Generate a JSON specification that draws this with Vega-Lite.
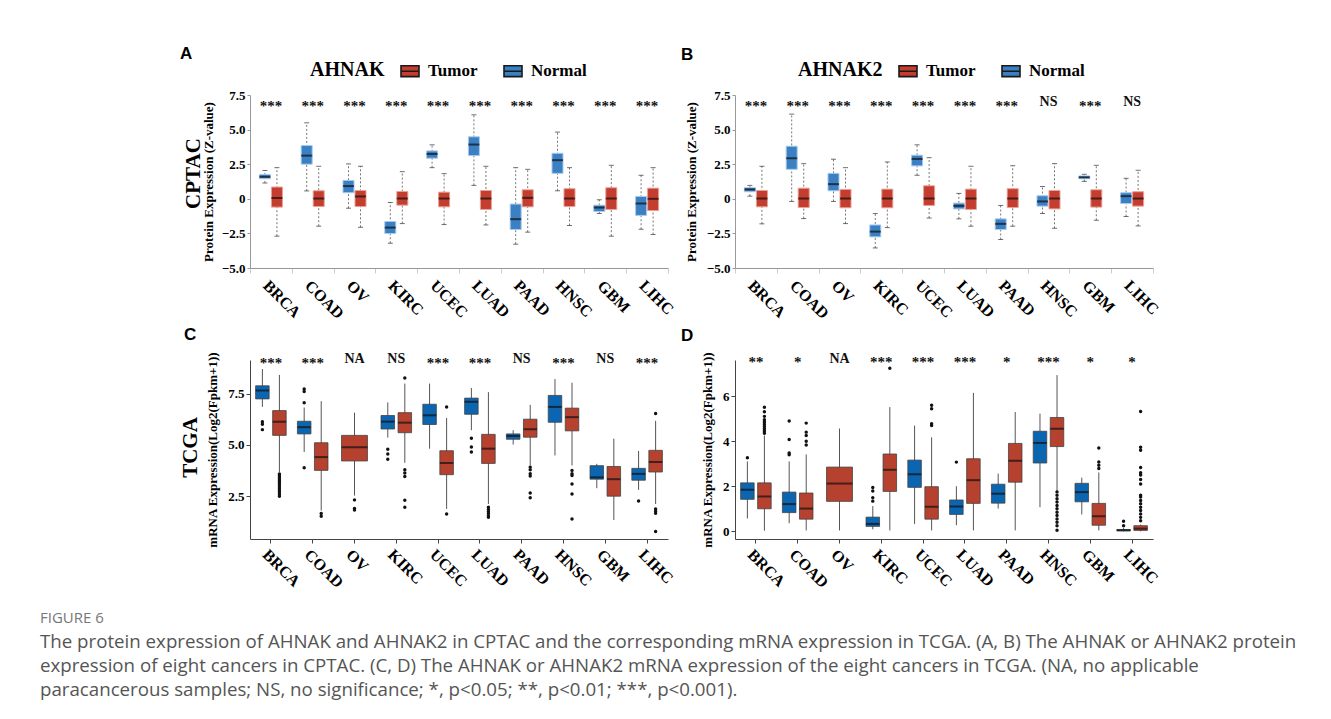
{
"$schema":"https://vega.github.io/schema/vega-lite/v6.json",
"background":"white",
"padding":{"left":40,"top":44,"right":20,"bottom":20},
"config":{"view":{"stroke":null},"axis":{"grid":false,"labelOverlap":false}},
"title":{"text":"FIGURE 6","subtitle":["The protein expression of AHNAK and AHNAK2 in CPTAC and the corresponding mRNA expression in TCGA. (A, B) The AHNAK or AHNAK2 protein","expression of eight cancers in CPTAC. (C, D) The AHNAK or AHNAK2 mRNA expression of the eight cancers in TCGA. (NA, no applicable","paracancerous samples; NS, no significance; *, p<0.05; **, p<0.01; ***, p<0.001)."],"orient":"bottom","anchor":"start","frame":"group","dx":-210,"offset":20,"font":"Open Sans","fontSize":15,"fontWeight":"normal","color":"#777","subtitleFont":"Open Sans","subtitleFontSize":18.7,"subtitleColor":"#555","subtitleLineHeight":24,"subtitlePadding":7},
"datasets":{
"boxA":[
{"cancer":"BRCA","group":"Normal","lo":1.15,"q1":1.45,"med":1.6,"q3":1.75,"hi":2.05},
{"cancer":"BRCA","group":"Tumor","lo":-2.7,"q1":-0.6,"med":0.05,"q3":0.85,"hi":2.25},
{"cancer":"COAD","group":"Normal","lo":0.57,"q1":2.5,"med":3.12,"q3":3.85,"hi":5.49},
{"cancer":"COAD","group":"Tumor","lo":-1.98,"q1":-0.56,"med":0.02,"q3":0.58,"hi":2.35},
{"cancer":"OV","group":"Normal","lo":-0.68,"q1":0.44,"med":0.92,"q3":1.33,"hi":2.52},
{"cancer":"OV","group":"Tumor","lo":-2.06,"q1":-0.56,"med":0.17,"q3":0.6,"hi":2.35},
{"cancer":"KIRC","group":"Normal","lo":-3.21,"q1":-2.51,"med":-2.08,"q3":-1.64,"hi":-0.27},
{"cancer":"KIRC","group":"Tumor","lo":-1.79,"q1":-0.46,"med":0.02,"q3":0.53,"hi":1.96},
{"cancer":"UCEC","group":"Normal","lo":2.25,"q1":2.93,"med":3.24,"q3":3.46,"hi":3.9},
{"cancer":"UCEC","group":"Tumor","lo":-1.86,"q1":-0.58,"med":0.02,"q3":0.48,"hi":1.82},
{"cancer":"LUAD","group":"Normal","lo":0.97,"q1":3.12,"med":3.92,"q3":4.48,"hi":6.07},
{"cancer":"LUAD","group":"Tumor","lo":-1.89,"q1":-0.77,"med":0.02,"q3":0.6,"hi":2.35},
{"cancer":"PAAD","group":"Normal","lo":-3.28,"q1":-2.22,"med":-1.47,"q3":-0.38,"hi":2.25},
{"cancer":"PAAD","group":"Tumor","lo":-2.41,"q1":-0.58,"med":0.07,"q3":0.65,"hi":2.13},
{"cancer":"HNSC","group":"Normal","lo":0.58,"q1":1.84,"med":2.79,"q3":3.29,"hi":4.82},
{"cancer":"HNSC","group":"Tumor","lo":-1.93,"q1":-0.56,"med":0.02,"q3":0.73,"hi":2.25},
{"cancer":"GBM","group":"Normal","lo":-1.06,"q1":-0.92,"med":-0.63,"q3":-0.46,"hi":-0.07},
{"cancer":"GBM","group":"Tumor","lo":-2.7,"q1":-0.77,"med":0.02,"q3":0.8,"hi":2.42},
{"cancer":"LIHC","group":"Normal","lo":-2.2,"q1":-1.2,"med":-0.34,"q3":0.17,"hi":1.7},
{"cancer":"LIHC","group":"Tumor","lo":-2.58,"q1":-0.85,"med":0.0,"q3":0.77,"hi":2.25}
],
"boxB":[
{"cancer":"BRCA","group":"Normal","lo":0.19,"q1":0.51,"med":0.68,"q3":0.8,"hi":0.97},
{"cancer":"BRCA","group":"Tumor","lo":-1.81,"q1":-0.58,"med":0.02,"q3":0.6,"hi":2.35},
{"cancer":"COAD","group":"Normal","lo":-0.19,"q1":2.13,"med":2.93,"q3":3.8,"hi":6.12},
{"cancer":"COAD","group":"Tumor","lo":-1.43,"q1":-0.63,"med":0.02,"q3":0.77,"hi":2.54},
{"cancer":"OV","group":"Normal","lo":-0.19,"q1":0.58,"med":1.06,"q3":1.84,"hi":2.86},
{"cancer":"OV","group":"Tumor","lo":-1.79,"q1":-0.65,"med":0.02,"q3":0.68,"hi":2.25},
{"cancer":"KIRC","group":"Normal","lo":-3.55,"q1":-2.75,"med":-2.37,"q3":-1.89,"hi":-1.06},
{"cancer":"KIRC","group":"Tumor","lo":-2.08,"q1":-0.65,"med":0.02,"q3":0.7,"hi":2.66},
{"cancer":"UCEC","group":"Normal","lo":1.7,"q1":2.38,"med":2.88,"q3":3.15,"hi":3.9},
{"cancer":"UCEC","group":"Tumor","lo":-1.39,"q1":-0.48,"med":0.02,"q3":0.94,"hi":2.97},
{"cancer":"LUAD","group":"Normal","lo":-1.45,"q1":-0.73,"med":-0.51,"q3":-0.31,"hi":0.39},
{"cancer":"LUAD","group":"Tumor","lo":-1.98,"q1":-0.77,"med":0.02,"q3":0.7,"hi":2.35},
{"cancer":"PAAD","group":"Normal","lo":-2.94,"q1":-2.22,"med":-1.81,"q3":-1.45,"hi":-0.48},
{"cancer":"PAAD","group":"Tumor","lo":-1.98,"q1":-0.63,"med":0.02,"q3":0.73,"hi":2.39},
{"cancer":"HNSC","group":"Normal","lo":-1.06,"q1":-0.53,"med":-0.19,"q3":0.22,"hi":0.89},
{"cancer":"HNSC","group":"Tumor","lo":-2.13,"q1":-0.73,"med":0.02,"q3":0.6,"hi":2.54},
{"cancer":"GBM","group":"Normal","lo":1.26,"q1":1.45,"med":1.55,"q3":1.65,"hi":1.77},
{"cancer":"GBM","group":"Tumor","lo":-1.55,"q1":-0.6,"med":0.02,"q3":0.65,"hi":2.42},
{"cancer":"LIHC","group":"Normal","lo":-1.28,"q1":-0.34,"med":0.19,"q3":0.44,"hi":1.48},
{"cancer":"LIHC","group":"Tumor","lo":-1.96,"q1":-0.53,"med":0.02,"q3":0.51,"hi":2.06}
],
"boxC":[
{"cancer":"BRCA","group":"Normal","lo":6.86,"q1":7.25,"med":7.66,"q3":7.89,"hi":8.71},
{"cancer":"BRCA","group":"Tumor","lo":3.68,"q1":5.47,"med":6.14,"q3":6.68,"hi":8.42},
{"cancer":"COAD","group":"Normal","lo":4.66,"q1":5.54,"med":5.87,"q3":6.16,"hi":6.83},
{"cancer":"COAD","group":"Tumor","lo":1.8,"q1":3.76,"med":4.41,"q3":5.11,"hi":7.14},
{"cancer":"OV","group":"Tumor","lo":2.53,"q1":4.22,"med":4.89,"q3":5.47,"hi":6.58},
{"cancer":"KIRC","group":"Normal","lo":5.36,"q1":5.78,"med":6.14,"q3":6.44,"hi":7.08},
{"cancer":"KIRC","group":"Tumor","lo":4.13,"q1":5.6,"med":6.09,"q3":6.58,"hi":8.0},
{"cancer":"UCEC","group":"Normal","lo":4.82,"q1":6.0,"med":6.45,"q3":6.99,"hi":8.0},
{"cancer":"UCEC","group":"Tumor","lo":1.88,"q1":3.55,"med":4.12,"q3":4.72,"hi":6.32},
{"cancer":"LUAD","group":"Normal","lo":5.72,"q1":6.5,"med":7.11,"q3":7.29,"hi":7.78},
{"cancer":"LUAD","group":"Tumor","lo":2.12,"q1":4.1,"med":4.82,"q3":5.52,"hi":7.58},
{"cancer":"PAAD","group":"Normal","lo":5.02,"q1":5.28,"med":5.44,"q3":5.54,"hi":5.72},
{"cancer":"PAAD","group":"Tumor","lo":4.0,"q1":5.38,"med":5.77,"q3":6.26,"hi":6.96},
{"cancer":"HNSC","group":"Normal","lo":4.49,"q1":6.11,"med":6.86,"q3":7.42,"hi":8.22},
{"cancer":"HNSC","group":"Tumor","lo":4.0,"q1":5.69,"med":6.36,"q3":6.8,"hi":8.04},
{"cancer":"GBM","group":"Normal","lo":2.89,"q1":3.33,"med":3.42,"q3":3.99,"hi":4.08},
{"cancer":"GBM","group":"Tumor","lo":1.34,"q1":2.5,"med":3.33,"q3":3.95,"hi":5.31},
{"cancer":"LIHC","group":"Normal","lo":2.81,"q1":3.28,"med":3.59,"q3":3.86,"hi":4.71},
{"cancer":"LIHC","group":"Tumor","lo":2.12,"q1":3.68,"med":4.17,"q3":4.74,"hi":6.18}
],
"outC":[
{"cancer":"BRCA","group":"Normal","v":6.13},{"cancer":"BRCA","group":"Normal","v":6.01},{"cancer":"BRCA","group":"Normal","v":5.75},
{"cancer":"BRCA","group":"Tumor","v":3.58},{"cancer":"BRCA","group":"Tumor","v":3.5},{"cancer":"BRCA","group":"Tumor","v":3.42},{"cancer":"BRCA","group":"Tumor","v":3.34},{"cancer":"BRCA","group":"Tumor","v":3.26},{"cancer":"BRCA","group":"Tumor","v":3.18},{"cancer":"BRCA","group":"Tumor","v":3.1},{"cancer":"BRCA","group":"Tumor","v":3.0},{"cancer":"BRCA","group":"Tumor","v":2.9},{"cancer":"BRCA","group":"Tumor","v":2.8},{"cancer":"BRCA","group":"Tumor","v":2.7},{"cancer":"BRCA","group":"Tumor","v":2.6},{"cancer":"BRCA","group":"Tumor","v":2.5},
{"cancer":"COAD","group":"Normal","v":7.73},{"cancer":"COAD","group":"Normal","v":7.61},{"cancer":"COAD","group":"Normal","v":7.06},{"cancer":"COAD","group":"Normal","v":3.89},
{"cancer":"COAD","group":"Tumor","v":1.65},{"cancer":"COAD","group":"Tumor","v":1.52},
{"cancer":"OV","group":"Tumor","v":2.32},{"cancer":"OV","group":"Tumor","v":1.9},{"cancer":"OV","group":"Tumor","v":1.83},
{"cancer":"KIRC","group":"Normal","v":4.79},{"cancer":"KIRC","group":"Normal","v":4.56},{"cancer":"KIRC","group":"Normal","v":4.3},
{"cancer":"KIRC","group":"Tumor","v":8.27},{"cancer":"KIRC","group":"Tumor","v":3.79},{"cancer":"KIRC","group":"Tumor","v":3.63},{"cancer":"KIRC","group":"Tumor","v":3.46},{"cancer":"KIRC","group":"Tumor","v":2.3},{"cancer":"KIRC","group":"Tumor","v":1.96},
{"cancer":"UCEC","group":"Tumor","v":6.86},{"cancer":"UCEC","group":"Tumor","v":1.63},
{"cancer":"LUAD","group":"Normal","v":5.33},{"cancer":"LUAD","group":"Normal","v":4.9},{"cancer":"LUAD","group":"Normal","v":4.66},
{"cancer":"LUAD","group":"Tumor","v":1.96},{"cancer":"LUAD","group":"Tumor","v":1.85},{"cancer":"LUAD","group":"Tumor","v":1.75},{"cancer":"LUAD","group":"Tumor","v":1.65},{"cancer":"LUAD","group":"Tumor","v":1.55},{"cancer":"LUAD","group":"Tumor","v":1.47},
{"cancer":"PAAD","group":"Tumor","v":3.92},{"cancer":"PAAD","group":"Tumor","v":3.79},{"cancer":"PAAD","group":"Tumor","v":3.6},{"cancer":"PAAD","group":"Tumor","v":3.48},{"cancer":"PAAD","group":"Tumor","v":2.66},{"cancer":"PAAD","group":"Tumor","v":2.42},
{"cancer":"HNSC","group":"Tumor","v":3.76},{"cancer":"HNSC","group":"Tumor","v":3.6},{"cancer":"HNSC","group":"Tumor","v":3.51},{"cancer":"HNSC","group":"Tumor","v":3.1},{"cancer":"HNSC","group":"Tumor","v":2.61},{"cancer":"HNSC","group":"Tumor","v":1.39},
{"cancer":"LIHC","group":"Normal","v":2.27},
{"cancer":"LIHC","group":"Tumor","v":6.54},{"cancer":"LIHC","group":"Tumor","v":1.88},{"cancer":"LIHC","group":"Tumor","v":1.76},{"cancer":"LIHC","group":"Tumor","v":1.67},{"cancer":"LIHC","group":"Tumor","v":0.78}
],
"boxD":[
{"cancer":"BRCA","group":"Normal","lo":0.57,"q1":1.42,"med":1.85,"q3":2.15,"hi":3.1},
{"cancer":"BRCA","group":"Tumor","lo":0.03,"q1":1.0,"med":1.55,"q3":2.15,"hi":4.25},
{"cancer":"COAD","group":"Normal","lo":0.36,"q1":0.83,"med":1.21,"q3":1.74,"hi":3.1},
{"cancer":"COAD","group":"Tumor","lo":0.04,"q1":0.54,"med":1.01,"q3":1.7,"hi":3.41},
{"cancer":"OV","group":"Tumor","lo":0.04,"q1":1.33,"med":2.12,"q3":2.85,"hi":4.56},
{"cancer":"KIRC","group":"Normal","lo":0.09,"q1":0.22,"med":0.33,"q3":0.63,"hi":1.12},
{"cancer":"KIRC","group":"Tumor","lo":0.04,"q1":1.77,"med":2.73,"q3":3.43,"hi":5.51},
{"cancer":"UCEC","group":"Normal","lo":0.33,"q1":1.95,"med":2.53,"q3":3.16,"hi":4.69},
{"cancer":"UCEC","group":"Tumor","lo":0.04,"q1":0.54,"med":1.09,"q3":1.98,"hi":4.17},
{"cancer":"LUAD","group":"Normal","lo":0.27,"q1":0.75,"med":1.1,"q3":1.39,"hi":2.0},
{"cancer":"LUAD","group":"Tumor","lo":0.04,"q1":1.24,"med":2.27,"q3":3.22,"hi":6.14},
{"cancer":"PAAD","group":"Normal","lo":1.01,"q1":1.25,"med":1.67,"q3":2.09,"hi":2.56},
{"cancer":"PAAD","group":"Tumor","lo":0.04,"q1":2.18,"med":3.13,"q3":3.9,"hi":5.29},
{"cancer":"HNSC","group":"Normal","lo":1.07,"q1":3.03,"med":3.92,"q3":4.44,"hi":5.22},
{"cancer":"HNSC","group":"Tumor","lo":1.79,"q1":3.76,"med":4.55,"q3":5.05,"hi":6.93},
{"cancer":"GBM","group":"Normal","lo":0.75,"q1":1.31,"med":1.74,"q3":2.13,"hi":2.38},
{"cancer":"GBM","group":"Tumor","lo":0.04,"q1":0.27,"med":0.67,"q3":1.24,"hi":2.61},
{"cancer":"LIHC","group":"Normal","lo":0.0,"q1":0.02,"med":0.05,"q3":0.08,"hi":0.15},
{"cancer":"LIHC","group":"Tumor","lo":0.0,"q1":0.04,"med":0.12,"q3":0.25,"hi":0.3}
],
"outD":[
{"cancer":"BRCA","group":"Normal","v":3.26},
{"cancer":"BRCA","group":"Tumor","v":5.5},{"cancer":"BRCA","group":"Tumor","v":5.3},{"cancer":"BRCA","group":"Tumor","v":5.1},{"cancer":"BRCA","group":"Tumor","v":4.95},{"cancer":"BRCA","group":"Tumor","v":4.85},{"cancer":"BRCA","group":"Tumor","v":4.75},{"cancer":"BRCA","group":"Tumor","v":4.65},{"cancer":"BRCA","group":"Tumor","v":4.55},{"cancer":"BRCA","group":"Tumor","v":4.45},{"cancer":"BRCA","group":"Tumor","v":4.35},
{"cancer":"COAD","group":"Normal","v":4.89},{"cancer":"COAD","group":"Normal","v":4.07},{"cancer":"COAD","group":"Normal","v":3.47},{"cancer":"COAD","group":"Normal","v":3.4},
{"cancer":"COAD","group":"Tumor","v":4.8},{"cancer":"COAD","group":"Tumor","v":4.4},{"cancer":"COAD","group":"Tumor","v":4.25},{"cancer":"COAD","group":"Tumor","v":4.0},{"cancer":"COAD","group":"Tumor","v":3.83},
{"cancer":"KIRC","group":"Normal","v":1.94},{"cancer":"KIRC","group":"Normal","v":1.79},{"cancer":"KIRC","group":"Normal","v":1.49},{"cancer":"KIRC","group":"Normal","v":1.34},
{"cancer":"KIRC","group":"Tumor","v":7.23},
{"cancer":"UCEC","group":"Tumor","v":5.59},{"cancer":"UCEC","group":"Tumor","v":5.44},{"cancer":"UCEC","group":"Tumor","v":4.77},{"cancer":"UCEC","group":"Tumor","v":4.69},
{"cancer":"LUAD","group":"Normal","v":3.07},
{"cancer":"HNSC","group":"Tumor","v":1.75},{"cancer":"HNSC","group":"Tumor","v":1.6},{"cancer":"HNSC","group":"Tumor","v":1.45},{"cancer":"HNSC","group":"Tumor","v":1.3},{"cancer":"HNSC","group":"Tumor","v":1.15},{"cancer":"HNSC","group":"Tumor","v":1.0},{"cancer":"HNSC","group":"Tumor","v":0.85},{"cancer":"HNSC","group":"Tumor","v":0.7},{"cancer":"HNSC","group":"Tumor","v":0.55},{"cancer":"HNSC","group":"Tumor","v":0.4},{"cancer":"HNSC","group":"Tumor","v":0.25},{"cancer":"HNSC","group":"Tumor","v":0.05},
{"cancer":"GBM","group":"Tumor","v":3.7},{"cancer":"GBM","group":"Tumor","v":3.08},{"cancer":"GBM","group":"Tumor","v":2.93},{"cancer":"GBM","group":"Tumor","v":2.79},
{"cancer":"LIHC","group":"Normal","v":0.25},{"cancer":"LIHC","group":"Normal","v":0.45},
{"cancer":"LIHC","group":"Tumor","v":5.32},{"cancer":"LIHC","group":"Tumor","v":3.73},{"cancer":"LIHC","group":"Tumor","v":3.6},{"cancer":"LIHC","group":"Tumor","v":2.83},{"cancer":"LIHC","group":"Tumor","v":2.6},{"cancer":"LIHC","group":"Tumor","v":2.5},{"cancer":"LIHC","group":"Tumor","v":2.3},{"cancer":"LIHC","group":"Tumor","v":2.1},{"cancer":"LIHC","group":"Tumor","v":1.6},{"cancer":"LIHC","group":"Tumor","v":1.52},{"cancer":"LIHC","group":"Tumor","v":1.37},{"cancer":"LIHC","group":"Tumor","v":1.22},{"cancer":"LIHC","group":"Tumor","v":1.07},{"cancer":"LIHC","group":"Tumor","v":0.92},{"cancer":"LIHC","group":"Tumor","v":0.77},{"cancer":"LIHC","group":"Tumor","v":0.62},{"cancer":"LIHC","group":"Tumor","v":0.47}
],
"sigA":[{"cancer":"BRCA","label":"***"},{"cancer":"COAD","label":"***"},{"cancer":"OV","label":"***"},{"cancer":"KIRC","label":"***"},{"cancer":"UCEC","label":"***"},{"cancer":"LUAD","label":"***"},{"cancer":"PAAD","label":"***"},{"cancer":"HNSC","label":"***"},{"cancer":"GBM","label":"***"},{"cancer":"LIHC","label":"***"}],
"sigB":[{"cancer":"BRCA","label":"***"},{"cancer":"COAD","label":"***"},{"cancer":"OV","label":"***"},{"cancer":"KIRC","label":"***"},{"cancer":"UCEC","label":"***"},{"cancer":"LUAD","label":"***"},{"cancer":"PAAD","label":"***"},{"cancer":"HNSC","label":"NS"},{"cancer":"GBM","label":"***"},{"cancer":"LIHC","label":"NS"}],
"sigC":[{"cancer":"BRCA","label":"***"},{"cancer":"COAD","label":"***"},{"cancer":"OV","label":"NA"},{"cancer":"KIRC","label":"NS"},{"cancer":"UCEC","label":"***"},{"cancer":"LUAD","label":"***"},{"cancer":"PAAD","label":"NS"},{"cancer":"HNSC","label":"***"},{"cancer":"GBM","label":"NS"},{"cancer":"LIHC","label":"***"}],
"sigD":[{"cancer":"BRCA","label":"**"},{"cancer":"COAD","label":"*"},{"cancer":"OV","label":"NA"},{"cancer":"KIRC","label":"***"},{"cancer":"UCEC","label":"***"},{"cancer":"LUAD","label":"***"},{"cancer":"PAAD","label":"*"},{"cancer":"HNSC","label":"***"},{"cancer":"GBM","label":"*"},{"cancer":"LIHC","label":"*"}]
},
"vconcat":[
{"title":{"text":"A","anchor":"start","frame":"group","dx":-70,"offset":-17,"font":"Liberation Sans","fontSize":17,"fontWeight":"bold","color":"#000"},
"hconcat":[
{
"width":418,"height":173,
"title":{"text":"CPTAC","orient":"left","anchor":"middle","frame":"group","offset":-2,"dx":8,"font":"Liberation Serif","fontSize":21,"fontWeight":"bold","color":"#000"},
"encoding":{"x":{"field":"cancer","type":"nominal","sort":null,"title":null,"scale":{"domain":["BRCA","COAD","OV","KIRC","UCEC","LUAD","PAAD","HNSC","GBM","LIHC"],"paddingInner":0,"paddingOuter":0},"axis":{"labelAngle":45,"labelAlign":"left","labelBaseline":"top","labelFont":"Liberation Serif","labelFontSize":16,"labelFontWeight":"bold","labelColor":"#000","labelPadding":4,"domainColor":"#999","tickColor":"#ccc","tickSize":5,"tickBand":"extent"}}},
"layer":[
{"data":{"name":"boxA"},
"encoding":{"xOffset":{"field":"group","type":"nominal","scale":{"domain":["Normal","Tumor"],"paddingInner":0.083,"paddingOuter":0.78}}},
"layer":[
{"mark":{"type":"rule","color":"#777","strokeDash":[2,2],"strokeWidth":1},"encoding":{"y":{"field":"lo","type":"quantitative","title":"Protein Expression (Z-value)","scale":{"domain":[-5,7.5],"nice":false,"zero":false},"axis":{"values":[-5,-2.5,0,2.5,5,7.5],"tickCount":12,"format":".1f","labelExpr":"datum.value == 0 ? '0' : datum.label","labelOverlap":false,"labelFont":"Liberation Serif","labelFontSize":13,"labelFontWeight":"bold","labelColor":"#000","labelPadding":2,"tickSize":3,"tickColor":"#999","domainColor":"#999","titleFont":"Liberation Serif","titleFontSize":13,"titleFontWeight":"bold","titleColor":"#000","titlePadding":6}},"y2":{"field":"hi"}}},
{"mark":{"type":"tick","color":"#333","size":5,"thickness":1},"encoding":{"y":{"field":"lo","type":"quantitative","title":"Protein Expression (Z-value)"}}},
{"mark":{"type":"tick","color":"#333","size":5,"thickness":1},"encoding":{"y":{"field":"hi","type":"quantitative","title":"Protein Expression (Z-value)"}}},
{"mark":{"type":"bar","strokeWidth":1},"encoding":{"y":{"field":"q1","type":"quantitative","title":"Protein Expression (Z-value)"},"y2":{"field":"q3"},
"fill":{"field":"group","type":"nominal","scale":{"domain":["Tumor","Normal"],"range":["#c43d2e","#3b80c3"]},"legend":{"orient":"none","legendX":60,"legendY":-34,"direction":"horizontal","title":"AHNAK","titleOrient":"left","titleFont":"Liberation Serif","titleFontSize":20,"titleFontWeight":"bold","titleColor":"#000","titlePadding":15,"labelFont":"Liberation Serif","labelFontSize":17,"labelFontWeight":"bold","labelColor":"#000","labelOffset":8,"columnPadding":22,"symbolType":"M-1,-0.6H1V0.6H-1Z M-1,0H1","symbolSize":324,"symbolOpacity":1,"symbolStrokeColor":"#1a1a1a","symbolStrokeWidth":1.6,"encode":{"symbols":{"update":{"stroke":{"value":"#1a1a1a"},"strokeWidth":{"value":1.6},"opacity":{"value":1}}}}}},
"stroke":{"condition":{"test":"datum.group == 'Tumor'","value":"#e7a296"},"value":"#a8cbee"}}},
{"mark":{"type":"tick","color":"#111","size":11,"thickness":2},"encoding":{"y":{"field":"med","type":"quantitative","title":"Protein Expression (Z-value)"}}}
]},
{"data":{"name":"sigA"},
"layer":[
{"transform":[{"filter":"indexof(datum.label,'*') >= 0"}],"mark":{"type":"text","font":"Liberation Serif","fontSize":15,"fontWeight":"bold","color":"#111","baseline":"middle"},"encoding":{"text":{"field":"label"},"y":{"datum":6.7,"type":"quantitative","title":"Protein Expression (Z-value)"}}},
{"transform":[{"filter":"indexof(datum.label,'*') < 0"}],"mark":{"type":"text","font":"Liberation Serif","fontSize":14,"fontWeight":"bold","color":"#111","baseline":"middle"},"encoding":{"text":{"field":"label"},"y":{"datum":7.0,"type":"quantitative","title":"Protein Expression (Z-value)"}}}
]}
]
},
{
"width":418,"height":173,
"title":{"text":"B","anchor":"start","frame":"group","dx":-54,"offset":-2.5,"font":"Liberation Sans","fontSize":17,"fontWeight":"bold","color":"#000"},
"encoding":{"x":{"field":"cancer","type":"nominal","sort":null,"title":null,"scale":{"domain":["BRCA","COAD","OV","KIRC","UCEC","LUAD","PAAD","HNSC","GBM","LIHC"],"paddingInner":0,"paddingOuter":0},"axis":{"labelAngle":45,"labelAlign":"left","labelBaseline":"top","labelFont":"Liberation Serif","labelFontSize":16,"labelFontWeight":"bold","labelColor":"#000","labelPadding":4,"domainColor":"#999","tickColor":"#ccc","tickSize":5,"tickBand":"extent"}}},
"layer":[
{"data":{"name":"boxB"},
"encoding":{"xOffset":{"field":"group","type":"nominal","scale":{"domain":["Normal","Tumor"],"paddingInner":0.083,"paddingOuter":0.78}}},
"layer":[
{"mark":{"type":"rule","color":"#777","strokeDash":[2,2],"strokeWidth":1},"encoding":{"y":{"field":"lo","type":"quantitative","title":"Protein Expression (Z-value)","scale":{"domain":[-5,7.5],"nice":false,"zero":false},"axis":{"values":[-5,-2.5,0,2.5,5,7.5],"tickCount":12,"format":".1f","labelExpr":"datum.value == 0 ? '0' : datum.label","labelOverlap":false,"labelFont":"Liberation Serif","labelFontSize":13,"labelFontWeight":"bold","labelColor":"#000","labelPadding":2,"tickSize":3,"tickColor":"#999","domainColor":"#999","titleFont":"Liberation Serif","titleFontSize":13,"titleFontWeight":"bold","titleColor":"#000","titlePadding":8}},"y2":{"field":"hi"}}},
{"mark":{"type":"tick","color":"#333","size":5,"thickness":1},"encoding":{"y":{"field":"lo","type":"quantitative","title":"Protein Expression (Z-value)"}}},
{"mark":{"type":"tick","color":"#333","size":5,"thickness":1},"encoding":{"y":{"field":"hi","type":"quantitative","title":"Protein Expression (Z-value)"}}},
{"mark":{"type":"bar","strokeWidth":1},"encoding":{"y":{"field":"q1","type":"quantitative","title":"Protein Expression (Z-value)"},"y2":{"field":"q3"},
"fill":{"field":"group","type":"nominal","scale":{"domain":["Tumor","Normal"],"range":["#c43d2e","#3b80c3"]},"legend":{"orient":"none","legendX":63,"legendY":-34,"direction":"horizontal","title":"AHNAK2","titleOrient":"left","titleFont":"Liberation Serif","titleFontSize":20,"titleFontWeight":"bold","titleColor":"#000","titlePadding":15,"labelFont":"Liberation Serif","labelFontSize":17,"labelFontWeight":"bold","labelColor":"#000","labelOffset":8,"columnPadding":22,"symbolType":"M-1,-0.6H1V0.6H-1Z M-1,0H1","symbolSize":324,"symbolOpacity":1,"symbolStrokeColor":"#1a1a1a","symbolStrokeWidth":1.6,"encode":{"symbols":{"update":{"stroke":{"value":"#1a1a1a"},"strokeWidth":{"value":1.6},"opacity":{"value":1}}}}}},
"stroke":{"condition":{"test":"datum.group == 'Tumor'","value":"#e7a296"},"value":"#a8cbee"}}},
{"mark":{"type":"tick","color":"#111","size":11,"thickness":2},"encoding":{"y":{"field":"med","type":"quantitative","title":"Protein Expression (Z-value)"}}}
]},
{"data":{"name":"sigB"},
"layer":[
{"transform":[{"filter":"indexof(datum.label,'*') >= 0"}],"mark":{"type":"text","font":"Liberation Serif","fontSize":15,"fontWeight":"bold","color":"#111","baseline":"middle"},"encoding":{"text":{"field":"label"},"y":{"datum":6.7,"type":"quantitative","title":"Protein Expression (Z-value)"}}},
{"transform":[{"filter":"indexof(datum.label,'*') < 0"}],"mark":{"type":"text","font":"Liberation Serif","fontSize":14,"fontWeight":"bold","color":"#111","baseline":"middle"},"encoding":{"text":{"field":"label"},"y":{"datum":7.0,"type":"quantitative","title":"Protein Expression (Z-value)"}}}
]}
]
}
],"spacing":67,"bounds":"flush",
"resolve":{"scale":{"fill":"independent","stroke":"independent","x":"independent","y":"independent","xOffset":"independent"},"legend":{"fill":"independent","stroke":"independent"}}},
{"title":{"text":"C","anchor":"start","frame":"group","dx":-66,"offset":-17,"font":"Liberation Sans","fontSize":17,"fontWeight":"bold","color":"#000"},
"hconcat":[
{
"width":418,"height":179,
"title":{"text":"TCGA","orient":"left","anchor":"middle","frame":"group","offset":6,"dx":2,"font":"Liberation Serif","fontSize":21,"fontWeight":"bold","color":"#000"},
"encoding":{"x":{"field":"cancer","type":"nominal","sort":null,"title":null,"scale":{"domain":["BRCA","COAD","OV","KIRC","UCEC","LUAD","PAAD","HNSC","GBM","LIHC"],"paddingInner":0,"paddingOuter":0},"axis":{"labelAngle":45,"labelAlign":"left","labelBaseline":"top","labelFont":"Liberation Serif","labelFontSize":16,"labelFontWeight":"bold","labelColor":"#000","labelPadding":3,"domainColor":"#444","tickColor":"#444","tickSize":4}}},
"layer":[
{"data":{"name":"boxC"},"transform":[{"filter":"datum.cancer != 'OV'"}],
"encoding":{"xOffset":{"field":"group","type":"nominal","scale":{"domain":["Normal","Tumor"],"paddingInner":0.206,"paddingOuter":0.33}}},
"layer":[
{"mark":{"type":"rule","color":"#555","strokeWidth":1},"encoding":{"y":{"field":"lo","type":"quantitative","title":"mRNA Expression(Log2(Fpkm+1))","scale":{"domain":[0.41,9.15],"nice":false,"zero":false},"axis":{"values":[2.5,5,7.5],"tickCount":12,"format":".1f","labelOverlap":false,"labelFont":"Liberation Serif","labelFontSize":13,"labelFontWeight":"bold","labelColor":"#000","labelPadding":2,"tickSize":4,"tickColor":"#444","domainColor":"#444","titleFont":"Liberation Serif","titleFontSize":13,"titleFontWeight":"bold","titleColor":"#000","titlePadding":8}},"y2":{"field":"hi"}}},
{"mark":{"type":"bar","strokeWidth":0.8,"stroke":"#444"},"encoding":{"y":{"field":"q1","type":"quantitative","title":"mRNA Expression(Log2(Fpkm+1))"},"y2":{"field":"q3"},"fill":{"field":"group","type":"nominal","scale":{"domain":["Tumor","Normal"],"range":["#b5412e","#0c65b0"]},"legend":null}}},
{"mark":{"type":"tick","color":"#111","size":13.5,"thickness":2},"encoding":{"y":{"field":"med","type":"quantitative","title":"mRNA Expression(Log2(Fpkm+1))"}}}
]},
{"data":{"name":"boxC"},"transform":[{"filter":"datum.cancer == 'OV'"}],
"layer":[
{"mark":{"type":"rule","color":"#555","strokeWidth":1},"encoding":{"y":{"field":"lo","type":"quantitative","title":"mRNA Expression(Log2(Fpkm+1))"},"y2":{"field":"hi"}}},
{"mark":{"type":"bar","strokeWidth":0.8,"stroke":"#444","width":{"band":0.62}},"encoding":{"y":{"field":"q1","type":"quantitative","title":"mRNA Expression(Log2(Fpkm+1))"},"y2":{"field":"q3"},"fill":{"field":"group","type":"nominal","scale":{"domain":["Tumor","Normal"],"range":["#b5412e","#0c65b0"]},"legend":null}}},
{"mark":{"type":"tick","color":"#111","size":26,"thickness":2},"encoding":{"y":{"field":"med","type":"quantitative","title":"mRNA Expression(Log2(Fpkm+1))"}}}
]},
{"data":{"name":"outC"},"transform":[{"filter":"datum.cancer != 'OV'"}],"mark":{"type":"circle","color":"#111","size":12,"opacity":1},
"encoding":{"xOffset":{"field":"group","type":"nominal","scale":{"domain":["Normal","Tumor"],"paddingInner":0.206,"paddingOuter":0.33}},"y":{"field":"v","type":"quantitative","title":"mRNA Expression(Log2(Fpkm+1))"}}},
{"data":{"name":"outC"},"transform":[{"filter":"datum.cancer == 'OV'"}],"mark":{"type":"circle","color":"#111","size":12,"opacity":1},
"encoding":{"y":{"field":"v","type":"quantitative","title":"mRNA Expression(Log2(Fpkm+1))"}}},
{"data":{"name":"sigC"},
"layer":[
{"transform":[{"filter":"indexof(datum.label,'*') >= 0"}],"mark":{"type":"text","font":"Liberation Serif","fontSize":15,"fontWeight":"bold","color":"#111","baseline":"middle"},"encoding":{"text":{"field":"label"},"y":{"datum":9.0,"type":"quantitative","title":"mRNA Expression(Log2(Fpkm+1))"}}},
{"transform":[{"filter":"indexof(datum.label,'*') < 0"}],"mark":{"type":"text","font":"Liberation Serif","fontSize":14,"fontWeight":"bold","color":"#111","baseline":"middle"},"encoding":{"text":{"field":"label"},"y":{"datum":9.2,"type":"quantitative","title":"mRNA Expression(Log2(Fpkm+1))"}}}
]}
]
},
{
"width":418,"height":179,
"title":{"text":"D","anchor":"start","frame":"group","dx":-54,"offset":6,"font":"Liberation Sans","fontSize":17,"fontWeight":"bold","color":"#000"},
"encoding":{"x":{"field":"cancer","type":"nominal","sort":null,"title":null,"scale":{"domain":["BRCA","COAD","OV","KIRC","UCEC","LUAD","PAAD","HNSC","GBM","LIHC"],"paddingInner":0,"paddingOuter":0},"axis":{"labelAngle":45,"labelAlign":"left","labelBaseline":"top","labelFont":"Liberation Serif","labelFontSize":16,"labelFontWeight":"bold","labelColor":"#000","labelPadding":3,"domainColor":"#444","tickColor":"#444","tickSize":4}}},
"layer":[
{"data":{"name":"boxD"},"transform":[{"filter":"datum.cancer != 'OV'"}],
"encoding":{"xOffset":{"field":"group","type":"nominal","scale":{"domain":["Normal","Tumor"],"paddingInner":0.206,"paddingOuter":0.33}}},
"layer":[
{"mark":{"type":"rule","color":"#555","strokeWidth":1},"encoding":{"y":{"field":"lo","type":"quantitative","title":"mRNA Expression(Log2(Fpkm+1))","scale":{"domain":[-0.34,7.6],"nice":false,"zero":false},"axis":{"values":[0,2,4,6],"tickCount":12,"format":"d","labelOverlap":false,"labelFont":"Liberation Serif","labelFontSize":13,"labelFontWeight":"bold","labelColor":"#000","labelPadding":2,"tickSize":4,"tickColor":"#444","domainColor":"#444","titleFont":"Liberation Serif","titleFontSize":13,"titleFontWeight":"bold","titleColor":"#000","titlePadding":8}},"y2":{"field":"hi"}}},
{"mark":{"type":"bar","strokeWidth":0.8,"stroke":"#444"},"encoding":{"y":{"field":"q1","type":"quantitative","title":"mRNA Expression(Log2(Fpkm+1))"},"y2":{"field":"q3"},"fill":{"field":"group","type":"nominal","scale":{"domain":["Tumor","Normal"],"range":["#b5412e","#0c65b0"]},"legend":null}}},
{"mark":{"type":"tick","color":"#111","size":13.5,"thickness":2},"encoding":{"y":{"field":"med","type":"quantitative","title":"mRNA Expression(Log2(Fpkm+1))"}}}
]},
{"data":{"name":"boxD"},"transform":[{"filter":"datum.cancer == 'OV'"}],
"layer":[
{"mark":{"type":"rule","color":"#555","strokeWidth":1},"encoding":{"y":{"field":"lo","type":"quantitative","title":"mRNA Expression(Log2(Fpkm+1))"},"y2":{"field":"hi"}}},
{"mark":{"type":"bar","strokeWidth":0.8,"stroke":"#444","width":{"band":0.62}},"encoding":{"y":{"field":"q1","type":"quantitative","title":"mRNA Expression(Log2(Fpkm+1))"},"y2":{"field":"q3"},"fill":{"field":"group","type":"nominal","scale":{"domain":["Tumor","Normal"],"range":["#b5412e","#0c65b0"]},"legend":null}}},
{"mark":{"type":"tick","color":"#111","size":26,"thickness":2},"encoding":{"y":{"field":"med","type":"quantitative","title":"mRNA Expression(Log2(Fpkm+1))"}}}
]},
{"data":{"name":"outD"},"mark":{"type":"circle","color":"#111","size":12,"opacity":1},
"encoding":{"xOffset":{"field":"group","type":"nominal","scale":{"domain":["Normal","Tumor"],"paddingInner":0.206,"paddingOuter":0.33}},"y":{"field":"v","type":"quantitative","title":"mRNA Expression(Log2(Fpkm+1))"}}},
{"data":{"name":"sigD"},
"layer":[
{"transform":[{"filter":"indexof(datum.label,'*') >= 0"}],"mark":{"type":"text","font":"Liberation Serif","fontSize":15,"fontWeight":"bold","color":"#111","baseline":"middle"},"encoding":{"text":{"field":"label"},"y":{"datum":7.5,"type":"quantitative","title":"mRNA Expression(Log2(Fpkm+1))"}}},
{"transform":[{"filter":"indexof(datum.label,'*') < 0"}],"mark":{"type":"text","font":"Liberation Serif","fontSize":14,"fontWeight":"bold","color":"#111","baseline":"middle"},"encoding":{"text":{"field":"label"},"y":{"datum":7.64,"type":"quantitative","title":"mRNA Expression(Log2(Fpkm+1))"}}}
]}
]
}
],"spacing":67,"bounds":"flush",
"resolve":{"scale":{"fill":"independent","stroke":"independent","x":"independent","y":"independent","xOffset":"independent"},"legend":{"fill":"independent","stroke":"independent"}}}
],
"spacing":265,
"bounds":"flush",
"resolve":{"scale":{"fill":"independent","stroke":"independent","x":"independent","y":"independent","xOffset":"independent"},"legend":{"fill":"independent","stroke":"independent"}}
}
